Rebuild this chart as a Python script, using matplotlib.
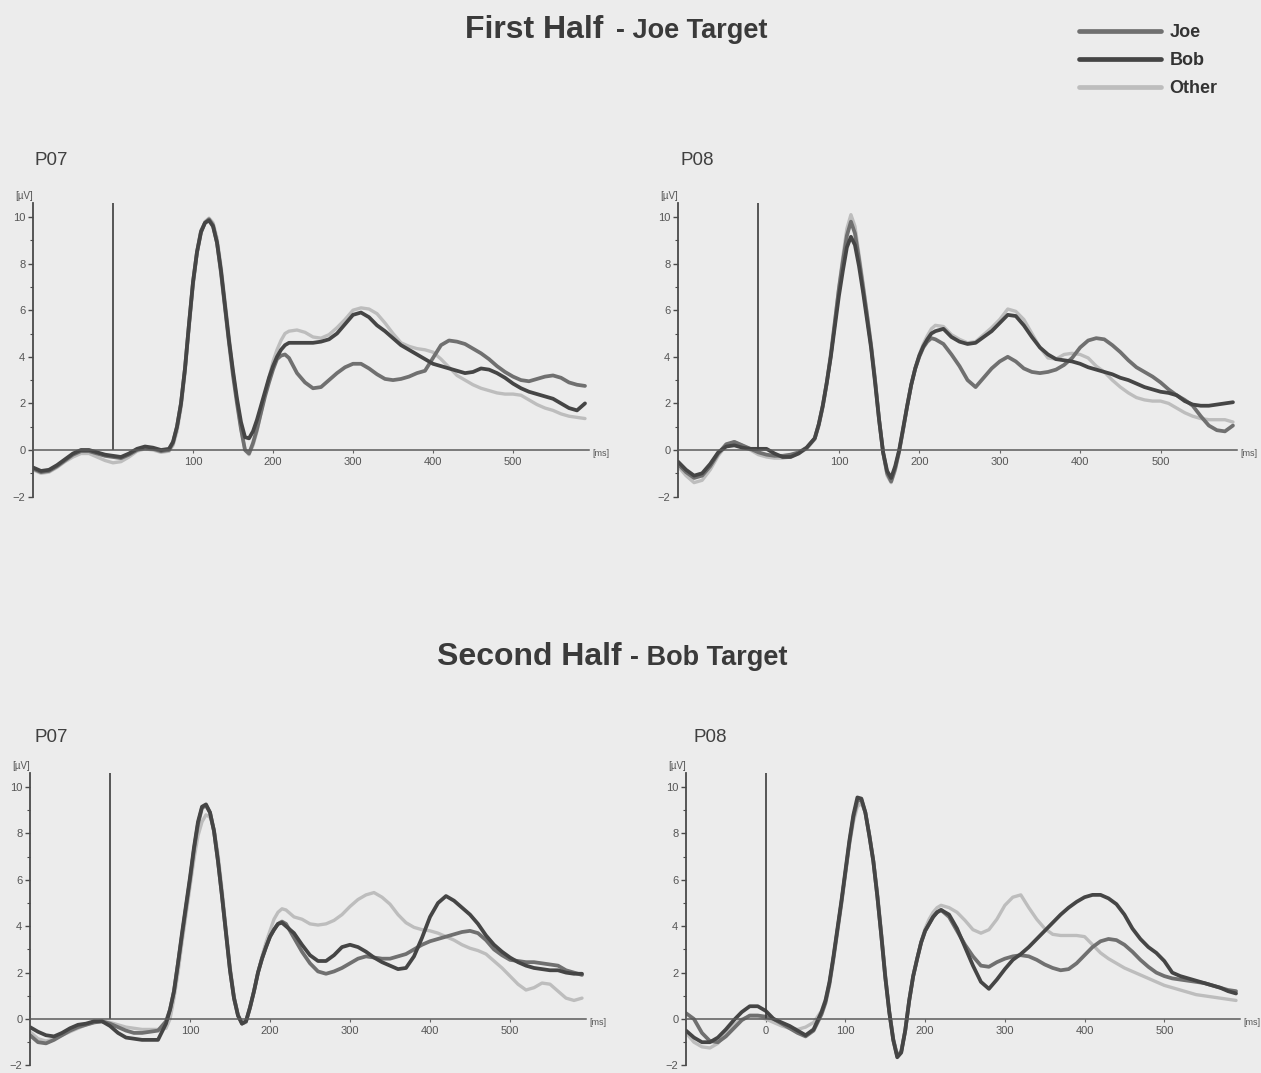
import numpy as np
import matplotlib
matplotlib.use("Agg")
import matplotlib.pyplot as plt

plt.rcParams["font.family"] = ["Liberation Sans", "DejaVu Sans"]

W, H = 1261, 1073
paper = "#ececec"
ink = "#3a3a3a"

# sampling grid (ms), denser across the P1 / N1 complex
time_ms = np.concatenate([np.arange(-100, 61, 10),
                          np.arange(70, 221, 5),
                          np.arange(230, 591, 10)])

# ---- first half (Joe target), P07 ----
fh_p07_joe = [-0.8, -0.95, -0.9, -0.7, -0.45, -0.2, -0.05, -0.05, -0.15, -0.25, -0.3, -0.35, -0.2, 0.0, 0.1, 0.05, -0.05,
              0.0, 0.3, 1.0, 2.0, 3.5, 5.4, 7.2, 8.5, 9.4, 9.75, 9.9, 9.65, 8.9, 7.6, 6.1, 4.6, 3.2, 2.0, 0.9, 0.0,
              -0.15, 0.3, 0.9, 1.6, 2.3, 2.9, 3.45, 3.9, 4.05, 4.1, 3.95,
              3.3, 2.9, 2.65, 2.7, 3.0, 3.3, 3.55, 3.7, 3.7, 3.5, 3.25, 3.05, 3.0, 3.05, 3.15, 3.3, 3.4, 3.95, 4.5,
              4.7, 4.65, 4.55, 4.35, 4.15, 3.9, 3.6, 3.35, 3.15, 3.0, 2.95, 3.05, 3.15, 3.2, 3.1, 2.9, 2.8, 2.75]
fh_p07_bob = [-0.75, -0.9, -0.85, -0.65, -0.4, -0.15, 0.0, 0.0, -0.1, -0.2, -0.25, -0.3, -0.15, 0.05, 0.15, 0.1, 0.0,
              0.05, 0.35, 1.0, 2.0, 3.5, 5.4, 7.2, 8.5, 9.35, 9.75, 9.85, 9.6, 8.9, 7.7, 6.2, 4.7, 3.4, 2.2, 1.2, 0.55,
              0.5, 0.8, 1.3, 1.9, 2.5, 3.1, 3.6, 4.0, 4.3, 4.5, 4.6,
              4.6, 4.6, 4.6, 4.65, 4.75, 5.0, 5.4, 5.8, 5.9, 5.7, 5.35, 5.1, 4.8, 4.5, 4.3, 4.1, 3.9, 3.7, 3.6,
              3.5, 3.4, 3.3, 3.35, 3.5, 3.45, 3.3, 3.1, 2.85, 2.65, 2.5, 2.4, 2.3, 2.2, 2.0, 1.8, 1.7, 2.0]
fh_p07_other = [-0.85, -1.0, -0.95, -0.75, -0.5, -0.3, -0.15, -0.15, -0.3, -0.45, -0.55, -0.5, -0.3, -0.05, 0.05, 0.0, -0.1,
                -0.05, 0.2, 0.8, 1.8, 3.3, 5.2, 7.0, 8.4, 9.3, 9.8, 9.95, 9.75, 9.1, 7.9, 6.4, 4.9, 3.4, 2.1, 0.9, 0.0,
                -0.2, 0.2, 0.8, 1.6, 2.4, 3.1, 3.8, 4.3, 4.7, 5.0, 5.1,
                5.15, 5.05, 4.85, 4.8, 4.95, 5.25, 5.6, 6.0, 6.1, 6.05, 5.85, 5.45, 5.0, 4.6, 4.45, 4.35, 4.3, 4.2, 3.9,
                3.55, 3.2, 3.0, 2.8, 2.65, 2.55, 2.45, 2.4, 2.4, 2.35, 2.15, 1.95, 1.8, 1.7, 1.55, 1.45, 1.4, 1.35]

# ---- first half (Joe target), P08 ----
fh_p08_joe = [-0.6, -0.95, -1.2, -1.1, -0.7, -0.15, 0.25, 0.35, 0.2, 0.05, -0.1, -0.2, -0.25, -0.25, -0.2, -0.1, 0.1,
              0.5, 1.1, 1.9, 2.9, 4.1, 5.5, 6.9, 8.1, 9.2, 9.8, 9.3, 8.2, 7.0, 5.8, 4.5, 3.0, 1.3, -0.1, -1.0, -1.35,
              -0.8, -0.05, 0.9, 1.9, 2.8, 3.5, 4.0, 4.4, 4.65, 4.8, 4.75,
              4.55, 4.1, 3.6, 3.0, 2.7, 3.1, 3.5, 3.8, 4.0, 3.8, 3.5, 3.35, 3.3, 3.35, 3.45, 3.65, 3.95, 4.4, 4.7,
              4.8, 4.75, 4.5, 4.2, 3.85, 3.55, 3.35, 3.15, 2.9, 2.6, 2.35, 2.15, 1.9, 1.45, 1.05, 0.85, 0.8, 1.05]
fh_p08_bob = [-0.5, -0.85, -1.1, -1.0, -0.6, -0.1, 0.15, 0.2, 0.1, 0.05, 0.05, 0.05, -0.15, -0.3, -0.3, -0.15, 0.1,
              0.5, 1.1, 1.9, 2.9, 4.0, 5.3, 6.6, 7.7, 8.7, 9.15, 8.8, 7.9, 6.8, 5.6, 4.4, 2.9, 1.3, -0.1, -0.9, -1.2,
              -0.7, 0.0, 0.95, 1.9, 2.8, 3.5, 4.05, 4.45, 4.75, 5.0, 5.1,
              5.2, 4.85, 4.65, 4.55, 4.6, 4.85, 5.1, 5.45, 5.8, 5.75, 5.35, 4.85, 4.4, 4.1, 3.9, 3.85, 3.8, 3.7, 3.55,
              3.45, 3.35, 3.25, 3.1, 3.0, 2.85, 2.7, 2.6, 2.5, 2.45, 2.35, 2.1, 1.95, 1.9, 1.9, 1.95, 2.0, 2.05]
fh_p08_other = [-0.7, -1.1, -1.4, -1.3, -0.85, -0.25, 0.2, 0.35, 0.2, 0.0, -0.2, -0.3, -0.35, -0.35, -0.3, -0.15, 0.05,
                0.45, 1.0, 1.8, 2.8, 4.0, 5.5, 7.0, 8.3, 9.5, 10.1, 9.6, 8.4, 7.2, 5.9, 4.6, 3.1, 1.4, -0.1, -1.1, -1.4,
                -0.9, -0.1, 0.85, 1.85, 2.8, 3.55, 4.1, 4.55, 4.9, 5.2, 5.35,
                5.3, 4.95, 4.75, 4.6, 4.65, 4.95, 5.25, 5.6, 6.05, 5.95, 5.6, 5.0, 4.4, 3.95, 3.9, 4.1, 4.15, 4.1, 3.95,
                3.6, 3.35, 3.0, 2.7, 2.45, 2.25, 2.15, 2.1, 2.1, 2.0, 1.8, 1.6, 1.45, 1.35, 1.3, 1.3, 1.3, 1.2]

# ---- second half (Bob target), P07 ----
sh_p07_joe = [-0.7, -1.0, -1.05, -0.9, -0.7, -0.5, -0.35, -0.25, -0.15, -0.1, -0.2, -0.35, -0.5, -0.6, -0.6, -0.55, -0.5,
              -0.1, 0.4, 1.2, 2.4, 3.6, 4.8, 6.0, 7.3, 8.4, 9.1, 9.2, 8.9, 8.1, 6.8, 5.3, 3.7, 2.1, 0.9, 0.15, -0.2,
              -0.1, 0.5, 1.2, 2.0, 2.6, 3.1, 3.55, 3.85, 4.1, 4.2, 4.1,
              3.5, 2.9, 2.4, 2.05, 1.95, 2.05, 2.2, 2.4, 2.6, 2.7, 2.65, 2.6, 2.6, 2.7, 2.8, 3.0, 3.2, 3.35, 3.45,
              3.55, 3.65, 3.75, 3.8, 3.7, 3.4, 3.0, 2.75, 2.55, 2.5, 2.45, 2.45, 2.4, 2.35, 2.3, 2.1, 2.0, 1.9]
sh_p07_bob = [-0.35, -0.55, -0.7, -0.75, -0.6, -0.4, -0.25, -0.2, -0.1, -0.1, -0.3, -0.6, -0.8, -0.85, -0.9, -0.9, -0.9,
              -0.2, 0.4, 1.2, 2.4, 3.7, 4.9, 6.1, 7.4, 8.5, 9.15, 9.25, 8.9, 8.1, 6.8, 5.3, 3.7, 2.1, 0.9, 0.15, -0.2,
              -0.1, 0.5, 1.2, 2.0, 2.6, 3.1, 3.55, 3.85, 4.1, 4.15, 4.0,
              3.7, 3.2, 2.75, 2.5, 2.5, 2.75, 3.1, 3.2, 3.1, 2.9, 2.65, 2.45, 2.3, 2.15, 2.2, 2.7, 3.5, 4.4, 5.0,
              5.3, 5.1, 4.8, 4.5, 4.1, 3.6, 3.2, 2.9, 2.65, 2.45, 2.3, 2.2, 2.15, 2.1, 2.1, 2.0, 1.95, 1.95]
sh_p07_other = [-0.55, -0.85, -0.95, -0.85, -0.7, -0.55, -0.4, -0.25, -0.15, -0.1, -0.15, -0.25, -0.35, -0.4, -0.45, -0.45, -0.45,
                -0.4, 0.0, 0.9, 2.0, 3.3, 4.5, 5.7, 6.9, 7.9, 8.5, 8.8, 8.7, 8.2, 7.1, 5.6, 3.9, 2.3, 1.0, 0.2, -0.2,
                -0.15, 0.45, 1.2, 2.0, 2.7, 3.3, 3.8, 4.3, 4.6, 4.75, 4.7,
                4.4, 4.3, 4.1, 4.05, 4.1, 4.25, 4.5, 4.85, 5.15, 5.35, 5.45, 5.25, 4.95, 4.5, 4.15, 3.95, 3.85, 3.8, 3.7,
                3.55, 3.4, 3.2, 3.05, 2.95, 2.8, 2.5, 2.2, 1.85, 1.5, 1.25, 1.35, 1.55, 1.5, 1.2, 0.9, 0.8, 0.9]

# ---- second half (Bob target), P08 ----
sh_p08_joe = [0.25, 0.0, -0.6, -0.95, -1.0, -0.75, -0.4, -0.05, 0.15, 0.15, 0.1, 0.0, -0.2, -0.4, -0.6, -0.75, -0.5,
              0.2, 0.7, 1.5, 2.6, 3.8, 5.0, 6.3, 7.6, 8.7, 9.4, 9.45, 8.9, 7.9, 6.8, 5.3, 3.6, 1.8, 0.3, -0.9, -1.6,
              -1.4, -0.5, 0.8, 1.85, 2.6, 3.3, 3.8, 4.1, 4.4, 4.6, 4.7,
              4.4, 3.8, 3.2, 2.7, 2.3, 2.25, 2.45, 2.6, 2.7, 2.75, 2.7, 2.55, 2.35, 2.2, 2.1, 2.15, 2.4, 2.75, 3.1,
              3.35, 3.45, 3.4, 3.2, 2.9, 2.55, 2.25, 2.0, 1.85, 1.75, 1.7, 1.65, 1.6, 1.55, 1.45, 1.35, 1.25, 1.2]
sh_p08_bob = [-0.5, -0.8, -1.0, -1.0, -0.8, -0.45, -0.05, 0.3, 0.55, 0.55, 0.35, 0.0, -0.15, -0.3, -0.5, -0.7, -0.45,
              0.3, 0.8, 1.6, 2.7, 3.9, 5.1, 6.4, 7.7, 8.8, 9.55, 9.5, 8.9, 7.9, 6.8, 5.3, 3.6, 1.8, 0.3, -0.9, -1.65,
              -1.45, -0.5, 0.8, 1.85, 2.6, 3.3, 3.8, 4.1, 4.4, 4.6, 4.7,
              4.5, 3.9, 3.1, 2.3, 1.6, 1.3, 1.7, 2.15, 2.55, 2.8, 3.1, 3.45, 3.8, 4.15, 4.5, 4.8, 5.05, 5.25, 5.35,
              5.35, 5.2, 4.95, 4.5, 3.9, 3.45, 3.1, 2.85, 2.5, 2.0, 1.85, 1.75, 1.65, 1.55, 1.45, 1.35, 1.2, 1.1]
sh_p08_other = [-0.6, -1.0, -1.2, -1.25, -1.05, -0.65, -0.25, 0.0, 0.1, 0.1, 0.0, -0.15, -0.3, -0.4, -0.45, -0.35, -0.15,
                0.35, 0.85, 1.6, 2.7, 3.9, 5.1, 6.3, 7.5, 8.5, 9.15, 9.3, 8.9, 8.0, 6.9, 5.5, 3.8, 2.0, 0.4, -0.8, -1.55,
                -1.4, -0.55, 0.7, 1.8, 2.6, 3.35, 3.9, 4.3, 4.6, 4.8, 4.9,
                4.8, 4.6, 4.25, 3.85, 3.7, 3.85, 4.3, 4.9, 5.25, 5.35, 4.8, 4.3, 3.9, 3.65, 3.6, 3.6, 3.6, 3.55, 3.2,
                2.85, 2.6, 2.4, 2.2, 2.05, 1.9, 1.75, 1.6, 1.45, 1.35, 1.25, 1.15, 1.05, 1.0, 0.95, 0.9, 0.85, 0.8]

conditions = ["Joe", "Bob", "Other"]
line_colors = {"Joe": "#707070", "Bob": "#454545", "Other": "#bdbdbd"}
line_widths = {"Joe": 2.7, "Bob": 2.7, "Other": 2.4}
draw_order = ["Other", "Joe", "Bob"]

# electrode, pixel box (left edge, right edge, y of 0 µV, px per µV), data, extra "0" label
panels = [
    ("P07", (33, 593, 450, 23.3), {"Joe": fh_p07_joe, "Bob": fh_p07_bob, "Other": fh_p07_other}, False),
    ("P08", (678, 1241, 450, 23.3), {"Joe": fh_p08_joe, "Bob": fh_p08_bob, "Other": fh_p08_other}, False),
    ("P07", (30, 590, 1019, 23.2), {"Joe": sh_p07_joe, "Bob": sh_p07_bob, "Other": sh_p07_other}, False),
    ("P08", (686, 1244, 1019, 23.2), {"Joe": sh_p08_joe, "Bob": sh_p08_bob, "Other": sh_p08_other}, True),
]
label_pos = [(35, 165), (681, 165), (35, 742), (693, 742)]

fig = plt.figure(figsize=(W / 100, H / 100), dpi=100, facecolor=paper)

ymin, ymax = -2.2, 10.8
handles = {}
for (name, (left, right, zero_y, scale), series, show_zero), (lx, ly) in zip(panels, label_pos):
    bottom_px = zero_y - ymin * scale
    top_px = zero_y - ymax * scale
    ax = fig.add_axes([left / W, 1 - bottom_px / H, (right - left) / W, (bottom_px - top_px) / H])
    ax.set_xlim(-100, 600)
    ax.set_ylim(ymin, ymax)
    ax.patch.set_alpha(0)

    for cond in draw_order:
        (ln,) = ax.plot(time_ms, series[cond], color=line_colors[cond], lw=line_widths[cond],
                        solid_capstyle="round", solid_joinstyle="round", label=cond)
        handles[cond] = ln

    # stimulus onset
    ax.vlines(0, 0, 10.6, color="#3c3c3c", lw=1.2)

    ax.spines[["top", "right"]].set_visible(False)
    ax.spines["left"].set_bounds(-2, 10.6)
    ax.spines["left"].set_color("#4a4a4a")
    ax.spines["left"].set_linewidth(1.3)
    ax.spines["bottom"].set_position(("data", 0))
    ax.spines["bottom"].set_bounds(-100, 595)
    ax.spines["bottom"].set_color("#5a5a5a")
    ax.spines["bottom"].set_linewidth(1.1)

    xt = [100, 200, 300, 400, 500]
    if show_zero:
        xt = [0] + xt
    ax.set_xticks(xt)
    ax.set_yticks([-2, 0, 2, 4, 6, 8, 10])
    ax.set_yticks([-1, 1, 3, 5, 7, 9], minor=True)
    ax.tick_params(axis="x", length=2, width=0.8, colors="#666666", labelcolor="#555555",
                   labelsize=8, pad=3)
    ax.tick_params(axis="y", which="major", length=3.5, width=1.0, colors="#4a4a4a",
                   labelcolor="#555555", labelsize=8, pad=2)
    ax.tick_params(axis="y", which="minor", length=2, width=0.8, colors="#4a4a4a")

    ax.text(-111, 10.7, "[µV]", ha="center", va="bottom", fontsize=7, color="#555555", clip_on=False)
    ax.text(599, -0.15, "[ms]", ha="left", va="center", fontsize=6.5, color="#555555", clip_on=False)

    fig.text(lx / W, 1 - ly / H, name, fontsize=13.5, color="#404040", va="baseline", ha="left")

# headings
fig.text(465 / W, 1 - 38 / H, "First Half", fontsize=23, weight="bold", color=ink, va="baseline")
fig.text(616 / W, 1 - 38 / H, "- Joe Target", fontsize=19.5, weight="bold", color=ink, va="baseline")
fig.text(437 / W, 1 - 665 / H, "Second Half", fontsize=23, weight="bold", color=ink, va="baseline")
fig.text(630 / W, 1 - 665 / H, "- Bob Target", fontsize=19.5, weight="bold", color=ink, va="baseline")

leg = fig.legend([handles[c] for c in conditions], conditions, loc="upper left",
                 bbox_to_anchor=(1079 / W, 1 - 24 / H), frameon=False,
                 handlelength=4.55, handletextpad=0.45, labelspacing=0.62,
                 borderpad=0, borderaxespad=0, prop={"weight": "bold", "size": 13})
for txt in leg.get_texts():
    txt.set_color("#333333")
for ln in leg.get_lines():
    ln.set_linewidth(3.4)

fig.savefig("out.png", dpi=100, facecolor=paper)
